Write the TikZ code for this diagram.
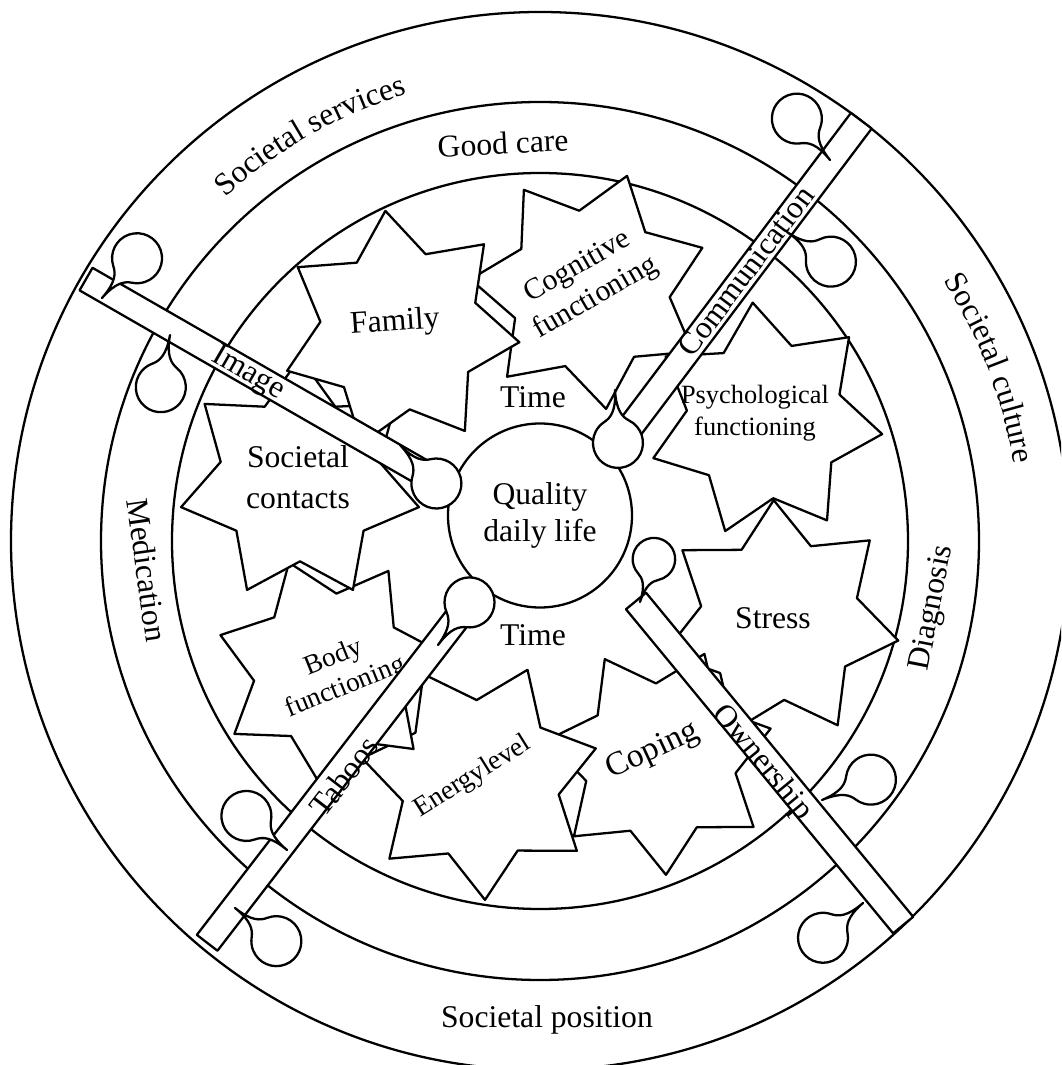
\documentclass[tikz,border=0pt]{standalone}
\usepackage{fontspec}
\setmainfont{Liberation Serif}
\usetikzlibrary{shapes.geometric,decorations.text}

\newcommand{\ringfont}{\fontsize{9}{10.5}\selectfont}

\begin{document}
\begin{tikzpicture}[line join=round, line width=0.65pt,
	starbox/.style={star, star points=7, star point ratio=1.5, draw, fill=white, inner sep=0pt, outer sep=0pt},
	lbl/.style={font=\fontsize{9}{10.5}\selectfont, align=center, inner sep=0pt},
	lblsmall/.style={font=\fontsize{7.8}{9}\selectfont, align=center, inner sep=0pt},
	rod/.style={draw, fill=white},
	drop/.pic={\draw[fill=white] (0,0) .. controls (0.21,0) and (0.275,0.06) .. (0.3135,0.125)
		arc[start angle=150, end angle=-150, radius=0.25] .. controls (0.275,-0.06) and (0.21,0) .. (0,0) -- cycle;}]
	
	% Frame of the page
	\useasboundingbox (-5.40,-5.24) rectangle (5.21,5.41);
	\fill[white] (-5.40,-5.24) rectangle (5.21,5.41);
	\clip (-5.40,-5.24) rectangle (5.21,5.41);
	
	% Three rings
	\foreach \r in {5.29,4.39,3.68} {
		\draw (0,0) circle (\r);
	}
	
	% Ring texts
	\path[decorate, decoration={text along path, text align=center, text={|\ringfont|Societal services}}]
		(140:4.66) arc[start angle=140, end angle=99, radius=4.66];
	\path[decorate, decoration={text along path, text align=center, text={|\ringfont|Societal culture}}]
		(42:4.80) arc[start angle=42, end angle=0, radius=4.80];
	\node[lbl, rotate=3] (goodcare) at (-0.37,3.98) {Good care};
	\node[lbl] (position) at (0.07,-4.79) {Societal position};
	\node[lbl, rotate=-82] (medication) at (-3.93,-0.29) {Medication};
	\node[lbl, rotate=79] (diagnosis) at (3.93,-0.67) {Diagnosis};
	
	% Seven-pointed stars, back to front
	\node[starbox, minimum size=2.4cm, shape border rotate=-18] (cognitive) at (0.50,2.51) {};
	\node[starbox, minimum size=2.36cm, shape border rotate=6] (psych) at (2.25,1.21) {};
	\node[starbox, minimum size=2.4cm, shape border rotate=3] (stress) at (2.40,-0.79) {};
	\node[starbox, minimum size=2.3cm, shape border rotate=28.7] (coping) at (1.20,-2.19) {};
	\node[starbox, minimum size=2.4cm, shape border rotate=28.1] (energy) at (-0.60,-2.39) {};
	\node[starbox, minimum size=2.3cm, shape border rotate=20.9] (body) at (-2.10,-1.29) {};
	\node[starbox, minimum size=2.44cm, shape border rotate=0] (contacts) at (-2.40,0.61) {};
	\node[starbox, minimum size=2.4cm, shape border rotate=7] (family) at (-1.40,2.11) {};
	
	% Star texts
	\node[lbl, rotate=30, font=\fontsize{8.5}{10.2}\selectfont] (cognitivetxt) at (0.47,2.58) {Cognitive\\functioning};
	\node[lbl, font=\fontsize{7.5}{9}\selectfont] (psychtxt) at (2.15,1.28) {Psychological\\functioning};
	\node[lbl] (stresstxt) at (2.33,-0.77) {Stress};
	\node[lbl, rotate=25, font=\fontsize{9.5}{11}\selectfont] (copingtxt) at (1.13,-2.10) {Coping};
	\node[lblsmall, rotate=32] (energytxt) at (-0.67,-2.36) {Energylevel};
	\node[lblsmall, rotate=22] (bodytxt) at (-2.00,-1.32) {Body\\functioning};
	\node[lbl, font=\fontsize{9}{11.5}\selectfont] (contactstxt) at (-2.42,0.64) {Societal\\contacts};
	\node[lbl, rotate=4] (familytxt) at (-1.45,2.18) {Family};
	\node[lbl] (timetop) at (-0.07,1.44) {Time};
	\node[lbl] (timebottom) at (-0.07,-0.94) {Time};
	
	% Four rods from the middle to the outer ring
	\draw[rod, shift={(-1.15,0.67)}, rotate=150.1] (0,-0.13) rectangle (3.91,0.13);
	\draw[rod, shift={(0.80,1.00)}, rotate=53] (0,-0.13) rectangle (4.01,0.13);
	\draw[rod, shift={(-0.65,-0.54)}, rotate=232.4] (0,-0.13) rectangle (4.39,0.13);
	\draw[rod, shift={(0.96,-0.60)}, rotate=-50.5] (0,-0.13) rectangle (4.20,0.13);
	
	% Rod texts
	\node[lbl, rotate=-30] (image) at (-2.92,1.67) {Image};
	\node[lbl, rotate=53] (communication) at (2.06,2.70) {Communication};
	\node[lbl, rotate=52.4] (taboos) at (-1.96,-2.35) {Taboos};
	\node[lbl, rotate=-50.5] (ownership) at (2.22,-2.22) {Ownership};
	
	% Centre
	\node[draw, circle, fill=white, minimum size=1.84cm, lbl] (quality) at (0,0.255) {Quality\\daily life};
	
	% Drops at the inner ends of the rods
	\pic[rotate=-46.6] at (-1.40,0.96) {drop};
	\pic[rotate=-86.8] at (0.75,1.51) {drop};
	\pic[rotate=53.5] at (-1.02,-1.04) {drop};
	\pic[rotate=72, scale=0.85] at (1.00,-0.61) {drop};
	
	% Drops where the rods cross the rings
	\pic[rotate=48.6] at (-4.38,2.43) {drop};
	\pic[rotate=-100] at (-3.70,2.06) {drop};
	\pic[rotate=128.7] at (2.90,3.81) {drop};
	\pic[rotate=-34] at (2.47,3.09) {drop};
	\pic[rotate=140] at (-2.53,-3.09) {drop};
	\pic[rotate=-38.7] at (-3.05,-3.67) {drop};
	\pic[rotate=22.6] at (2.82,-2.59) {drop};
	\pic[rotate=221] at (3.23,-3.62) {drop};
\end{tikzpicture}
\end{document}
